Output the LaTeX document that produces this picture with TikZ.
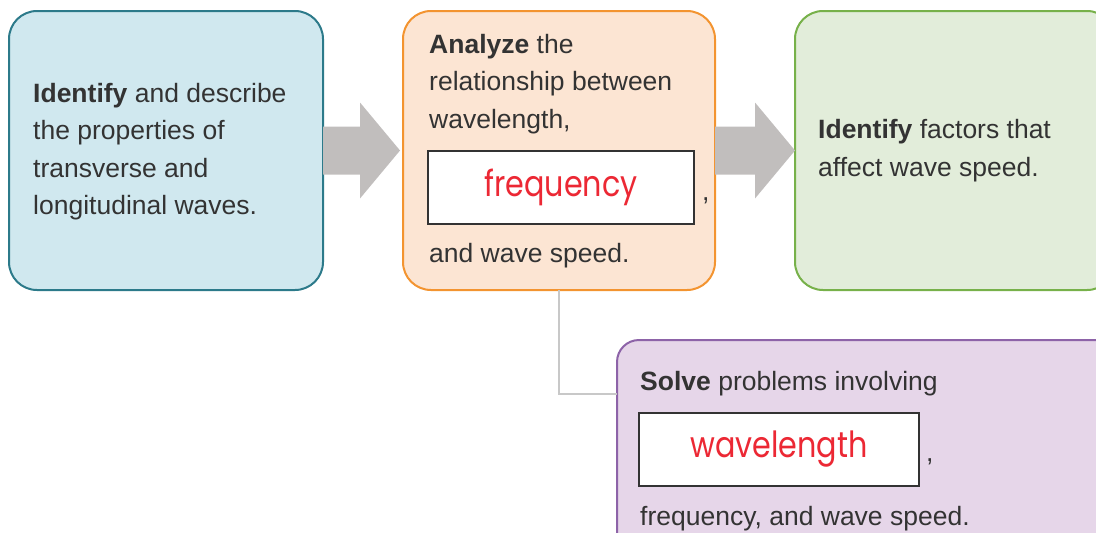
\documentclass[tikz,border=0pt]{standalone}
\usepackage{fontspec}
\usepackage{graphicx}
\setmainfont{Liberation Sans}
\newfontfamily\handfont{Poppins}
\usetikzlibrary{calc}

\definecolor{ink}{HTML}{333333}
\definecolor{blueFill}{HTML}{D0E8EF}
\definecolor{blueLine}{HTML}{2C7A8A}
\definecolor{orangeFill}{HTML}{FCE5D3}
\definecolor{orangeLine}{HTML}{F39430}
\definecolor{greenFill}{HTML}{E2EDDA}
\definecolor{greenLine}{HTML}{77B14A}
\definecolor{purpleFill}{HTML}{E6D6E9}
\definecolor{purpleLine}{HTML}{8D63A8}
\definecolor{flowGray}{HTML}{C1BEBD}
\definecolor{linkGray}{HTML}{C8C8C8}
\definecolor{answerRed}{HTML}{EC2834}

% narrow handwritten-looking answer text
\newcommand\answertext[1]{\scalebox{0.84}[1]{#1}}

\tikzset{
  card/.style={draw, line width=2pt, rounded corners=28pt, outer sep=0pt, inner sep=0pt},
  line/.style={anchor=base west, inner sep=0pt, text=ink,
    font=\fontsize{26.5}{37.5}\selectfont},
  answer/.style={draw=ink, line width=2pt, fill=white, inner sep=0pt,
    minimum height=73pt, text=answerRed, font=\handfont\fontsize{36}{40}\selectfont},
  flow/.style={fill=flowGray},
  link/.style={draw=linkGray, line width=1.5pt}
}

\begin{document}
\begin{tikzpicture}[x=1pt, y=-1pt]
\useasboundingbox (0,0) rectangle (1096,533);
\clip (0,0) rectangle (1096,533);

% stage cards
\node[card, fill=blueFill, draw=blueLine, minimum width=314pt, minimum height=279pt] (blue) at (166,150.5) {};
\node[card, fill=orangeFill, draw=orangeLine, minimum width=312pt, minimum height=279pt] (orange) at (559,150.5) {};
\node[card, fill=greenFill, draw=greenLine, minimum width=320pt, minimum height=279pt] (green) at (955,150.5) {};
\node[card, rounded corners=22pt, fill=purpleFill, draw=purpleLine, minimum width=503pt, minimum height=220pt] (purple) at (868.5,450) {};

% flow arrows between the cards
\fill[flow] let \p1=(blue.east), \p2=(orange.west) in
  (\x1,\y1+24pt) -- (\x2-43pt,\y1+24pt) -- (\x2-43pt,\y1+48pt) -- (\x2-3pt,\y1)
  -- (\x2-43pt,\y1-48pt) -- (\x2-43pt,\y1-24pt) -- (\x1,\y1-24pt) -- cycle;
\fill[flow] let \p1=(orange.east), \p2=(green.west) in
  (\x1,\y1+24pt) -- (\x2-40pt,\y1+24pt) -- (\x2-40pt,\y1+48pt) -- (\x2,\y1)
  -- (\x2-40pt,\y1-48pt) -- (\x2-40pt,\y1-24pt) -- (\x1,\y1-24pt) -- cycle;

% elbow link down to the problem-solving card
\draw[link] (orange.south) |- ([yshift=56pt]purple.west);

% first card
\node[line] (b1) at (33,102) {\textbf{Identify} and describe};
\node[line] (b2) at (33,139.5) {the properties of};
\node[line] (b3) at (33,177) {transverse and};
\node[line] (b4) at (33,214.5) {longitudinal waves.};

% second card
\node[line] (o1) at (429,53) {\textbf{Analyze} the};
\node[line] (o2) at (429,90.5) {relationship between};
\node[line] (o3) at (429,128) {wavelength,};
\node[answer, minimum width=266pt] (ans1) at (561,187.5) {\answertext{frequency}};
\node[line] (o4) at (702,200) {,};
\node[line] (o5) at (429,262) {and wave speed.};

% third card
\node[line] (g1) at (818,138) {\textbf{Identify} factors that};
\node[line] (g2) at (818,176) {affect wave speed.};

% fourth card
\node[line] (p1) at (640,390) {\textbf{Solve} problems involving};
\node[answer, minimum width=280pt] (ans2) at (779,449.5) {\answertext{wavelength}};
\node[line] (p2) at (926,461) {,};
\node[line] (p3) at (640,525) {frequency, and wave speed.};
\end{tikzpicture}
\end{document}
